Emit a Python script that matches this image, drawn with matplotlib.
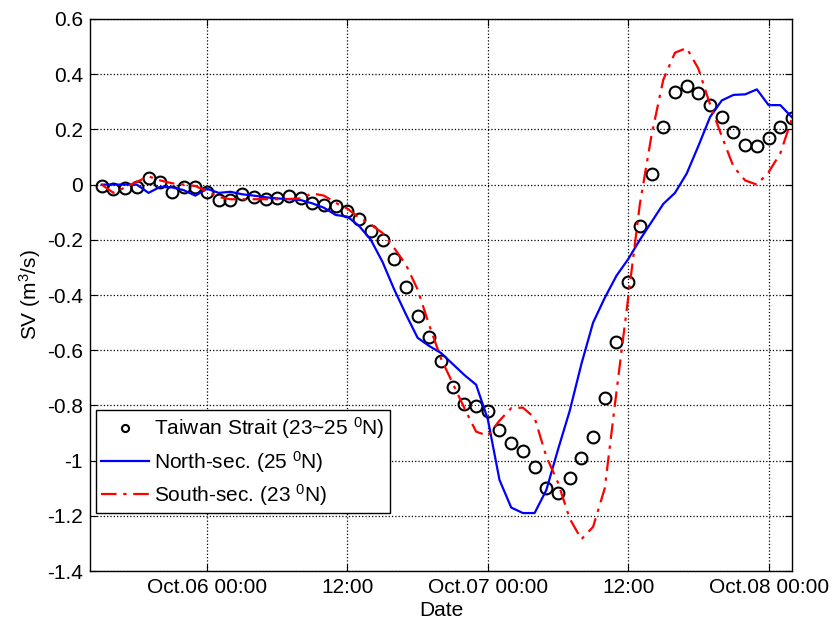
import pandas as pd
import matplotlib
matplotlib.use("Agg")
import matplotlib.pyplot as plt
import matplotlib.dates as mdates
from matplotlib.ticker import FuncFormatter, MultipleLocator

plt.rcParams['font.family'] = ['Liberation Sans', 'DejaVu Sans']
plt.rcParams['mathtext.default'] = 'regular'

# hourly samples, Oct.05 15:00 -> Oct.08 02:00
times = pd.date_range('2013-10-05 15:00', periods=60, freq='h')

strait = [-0.005, -0.015, -0.013, -0.01, 0.025, 0.01, -0.025, -0.008, -0.008, -0.028,
          -0.056, -0.056, -0.035, -0.046, -0.053, -0.05, -0.04, -0.05, -0.066, -0.075,
          -0.078, -0.095, -0.125, -0.167, -0.2, -0.27, -0.37, -0.476, -0.551, -0.638,
          -0.732, -0.795, -0.802, -0.822, -0.889, -0.937, -0.965, -1.024, -1.1, -1.116,
          -1.064, -0.992, -0.913, -0.774, -0.57, -0.352, -0.15, 0.038, 0.21, 0.334,
          0.357, 0.331, 0.288, 0.244, 0.19, 0.143, 0.14, 0.17, 0.208, 0.24]

north = [0.0, 0.0, 0.0, 0.0, -0.03, -0.008, -0.01, -0.02, -0.04, -0.015,
         -0.03, -0.026, -0.035, -0.04, -0.046, -0.05, -0.053, -0.056, -0.068, -0.084,
         -0.11, -0.116, -0.15, -0.2, -0.28, -0.38, -0.47, -0.555, -0.585, -0.61,
         -0.65, -0.69, -0.725, -0.85, -1.07, -1.17, -1.19, -1.19, -1.107, -0.96,
         -0.82, -0.65, -0.5, -0.41, -0.33, -0.27, -0.2, -0.135, -0.07, -0.03,
         0.04, 0.14, 0.245, 0.305, 0.325, 0.327, 0.345, 0.288, 0.288, 0.244]

south = [0.0, -0.03, -0.01, 0.01, 0.03, 0.015, 0.005, 0.0, -0.005, -0.025,
         -0.045, -0.053, -0.053, -0.053, -0.053, -0.053, -0.052, -0.05, -0.032, -0.04,
         -0.066, -0.087, -0.12, -0.145, -0.175, -0.23, -0.29, -0.38, -0.51, -0.63,
         -0.72, -0.81, -0.895, -0.91, -0.855, -0.81, -0.808, -0.845, -0.985, -1.08,
         -1.21, -1.285, -1.24, -1.1, -0.75, -0.41, -0.07, 0.18, 0.38, 0.478,
         0.495, 0.42, 0.29, 0.175, 0.065, 0.015, 0.0, 0.045, 0.113, 0.24]

fig = plt.figure(figsize=(8.32, 6.27), dpi=100)
ax = fig.add_axes([0.1082, 0.0893, 0.8437, 0.8804])

ax.plot(times, strait, 'o', mfc='none', mec='k', ms=8.5, mew=1.5,
        label='Taiwan Strait (23~25 $^0$N)')
ax.plot(times, north, '-', c='#0000ff', lw=1.6, label='North-sec. (25 $^0$N)')
ax.plot(times, south, c='#ff0000', lw=1.6, dashes=[7, 3, 1.5, 3],
        label='South-sec. (23 $^0$N)')

ax.set_xlim(pd.Timestamp('2013-10-05 14:00'), pd.Timestamp('2013-10-08 02:00'))
ax.set_ylim(-1.4, 0.6)
ax.yaxis.set_major_locator(MultipleLocator(0.2))
ax.xaxis.set_major_locator(mdates.HourLocator(byhour=[0, 12]))


def fmt_date(x, pos):
    d = mdates.num2date(x)
    if d.hour == 0:
        return d.strftime('Oct.%d 00:00')
    return d.strftime('%H:%M')


def fmt_y(v, pos):
    s = '%g' % round(v, 1)
    return '0' if s == '-0' else s


ax.xaxis.set_major_formatter(FuncFormatter(fmt_date))
ax.yaxis.set_major_formatter(FuncFormatter(fmt_y))

ax.grid(True, ls=':', c='k', lw=0.9)
ax.tick_params(direction='in', top=True, right=True, length=5, labelsize=15, pad=5)
for s in ax.spines.values():
    s.set_linewidth(1.0)

ax.set_xlabel('Date', fontsize=15, labelpad=3)
ax.set_ylabel('SV (m$^3$/s)', fontsize=15, labelpad=3)

leg = ax.legend(loc='lower left', bbox_to_anchor=(0.0085, 0.105), borderaxespad=0,
                fontsize=15, fancybox=False, framealpha=1, edgecolor='k',
                handlelength=2.3, handletextpad=0.25, labelspacing=0.35,
                markerscale=0.6, borderpad=0.25)
leg.get_frame().set_linewidth(1.0)

fig.savefig('out.png', dpi=100)
